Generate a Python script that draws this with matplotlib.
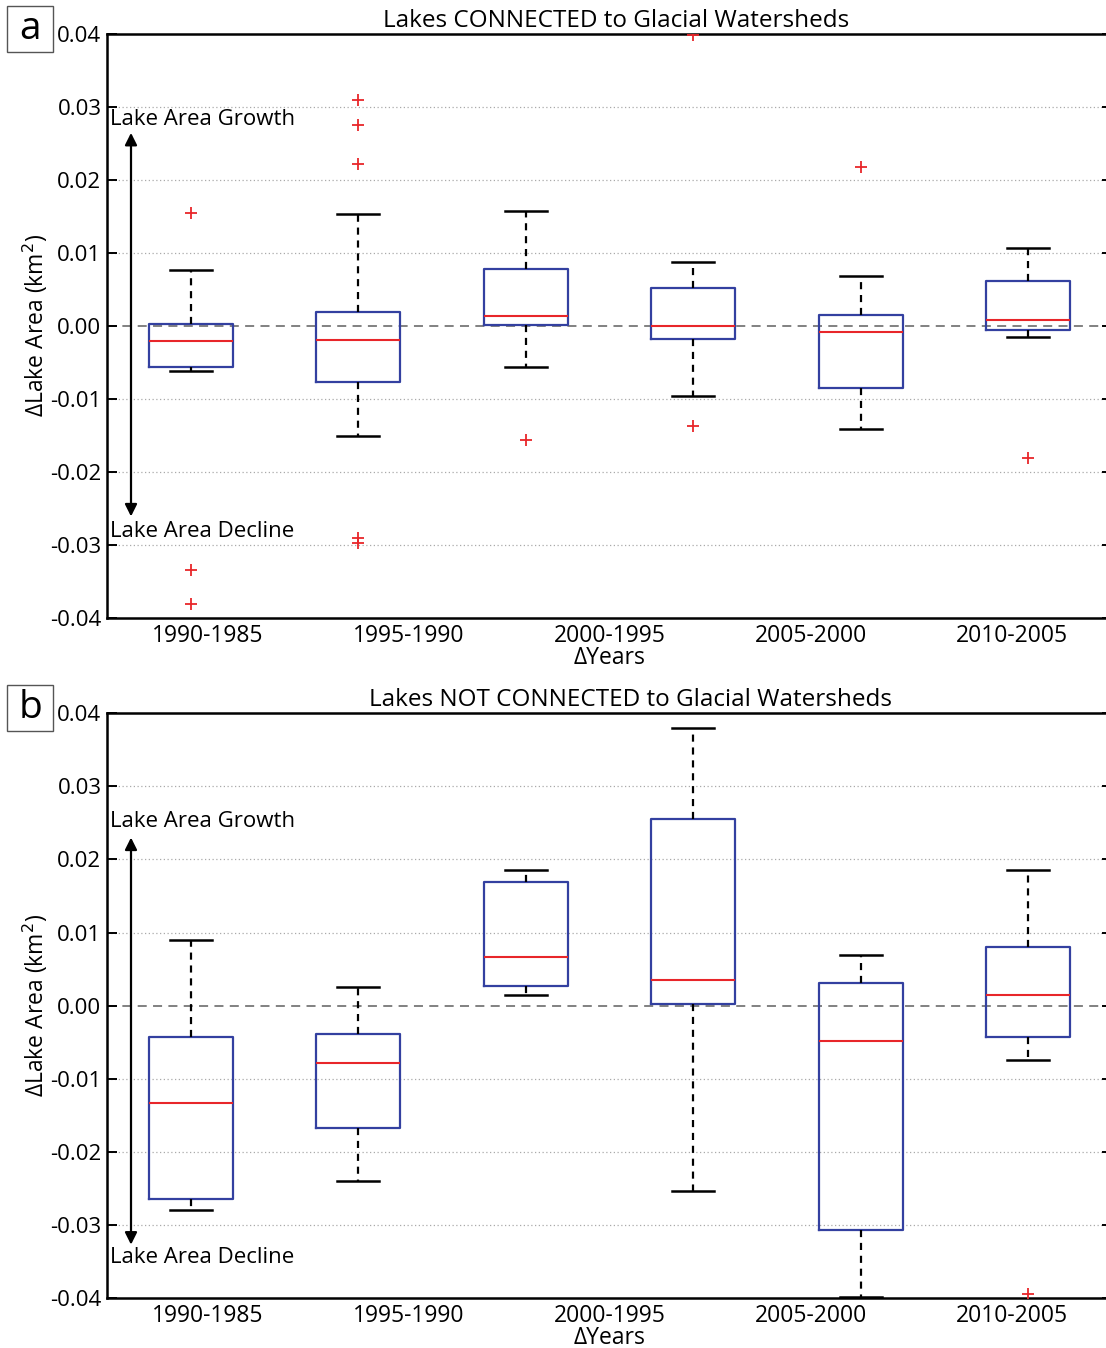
import matplotlib
matplotlib.use("Agg")
import matplotlib.pyplot as plt
from matplotlib.patches import Rectangle

plt.rcParams['font.family'] = ['Open Sans', 'DejaVu Sans']

# ---------------- data ----------------
x_labels = ["1990-1985", "1995-1990", "2000-1995", "2005-2000", "2010-2005"]
y_ticks = [-0.04, -0.03, -0.02, -0.01, 0.0, 0.01, 0.02, 0.03, 0.04]
y_ticklabels = ["-0.04", "-0.03", "-0.02", "-0.01", "0.00", "0.01", "0.02", "0.03", "0.04"]

# Panel a: lakes connected to glacial watersheds (six boxes)
a_whislo = [-0.0062, -0.0151, -0.0056, -0.0096, -0.0142, -0.0015]
a_q1     = [-0.0056, -0.0077,  0.0001, -0.0018, -0.0085, -0.0006]
a_med    = [-0.0021, -0.0019,  0.0013,  0.0000, -0.0008,  0.0008]
a_q3     = [ 0.0002,  0.0019,  0.0077,  0.0051,  0.0015,  0.0061]
a_whishi = [ 0.0076,  0.0153,  0.0157,  0.0087,  0.0068,  0.0106]
a_fliers = [[0.0154, -0.0334, -0.0381],
            [0.0309, 0.0275, 0.0221, -0.0291, -0.0297],
            [-0.0157],
            [0.0398, -0.0137],
            [0.0217],
            [-0.0181]]

# Panel b: lakes not connected to glacial watersheds
b_whislo = [-0.0279, -0.0240,  0.0014, -0.0254, -0.0398, -0.0074]
b_q1     = [-0.0265, -0.0168,  0.0027,  0.0002, -0.0307, -0.0043]
b_med    = [-0.0133, -0.0079,  0.0067,  0.0035, -0.0048,  0.0014]
b_q3     = [-0.0043, -0.0039,  0.0169,  0.0255,  0.0031,  0.0080]
b_whishi = [ 0.0090,  0.0026,  0.0186,  0.0380,  0.0069,  0.0185]
b_fliers = [[], [], [], [], [], [-0.0394]]

titles = ["Lakes CONNECTED to Glacial Watersheds",
          "Lakes NOT CONNECTED to Glacial Watersheds"]
panel_letters = ["a", "b"]

# ---------------- figure ----------------
W, H = 1106, 1348
fig = plt.figure(figsize=(W / 100, H / 100), dpi=100)

BOX_C = '#3340a0'
MED_C = '#e8262a'


def make_stats(lo, q1, med, q3, hi, fl):
    return [dict(whislo=lo[i], q1=q1[i], med=med[i], q3=q3[i],
                 whishi=hi[i], fliers=fl[i]) for i in range(len(med))]


panels = [
    dict(top=33.5, bot=618, stats=make_stats(a_whislo, a_q1, a_med, a_q3, a_whishi, a_fliers),
         arrow=(0.0264, -0.0261), grow_y=0.0282, decl_y=-0.0281, letter_box=(7, 6),
         title_x=0.5065),
    dict(top=713.3, bot=1298, stats=make_stats(b_whislo, b_q1, b_med, b_q3, b_whishi, b_fliers),
         arrow=(0.0230, -0.0327), grow_y=0.0252, decl_y=-0.0344, letter_box=(7, 685),
         title_x=0.521),
]

FS = 16.5
left_px, right_px = 107, 1112

for k, p in enumerate(panels):
    ax = fig.add_axes([left_px / W, 1 - p['bot'] / H,
                       (right_px - left_px) / W, (p['bot'] - p['top']) / H])
    n = len(p['stats'])
    positions = list(range(1, n + 1))
    ax.axhline(0, color='#777777', lw=1.3, ls=(0, (5, 3.5)), zorder=1)
    ax.bxp(p['stats'], positions=positions, widths=0.5, capwidths=0.25,
           showfliers=True, patch_artist=False,
           boxprops=dict(color=BOX_C, lw=1.6),
           medianprops=dict(color=MED_C, lw=1.5),
           whiskerprops=dict(color='black', lw=1.6, ls=(0, (3.2, 2.6))),
           capprops=dict(color='black', lw=1.8),
           flierprops=dict(marker='+', markeredgecolor=MED_C, markersize=8,
                           markeredgewidth=1.3, linestyle='none'),
           manage_ticks=False, zorder=3)
    ax.set_xlim(0.5, n + 0.5)
    ax.set_ylim(-0.04, 0.04)
    ax.set_yticks(y_ticks)
    ax.set_yticklabels(y_ticklabels, fontsize=FS - 0.5)
    span = n
    xt = [0.5 + (i + 0.5) * span / len(x_labels) for i in range(len(x_labels))]
    ax.set_xticks(xt)
    ax.set_xticklabels(x_labels, fontsize=FS)
    ax.tick_params(axis='x', length=0, pad=4)
    ax.tick_params(axis='y', direction='in', left=True, right=True, length=7,
                   width=1.4, pad=4)
    for y in y_ticks:
        if y != 0.0 and abs(y) < 0.04:
            ax.axhline(y, color='#aaaaaa', lw=0.9, ls=(0, (1, 2)), zorder=0)
    for s in ax.spines.values():
        s.set_linewidth(1.8)
    ax.set_title(titles[k], fontsize=17.5, x=p['title_x'], pad=5)
    ax.set_ylabel("ΔLake Area (km$^2$)", fontsize=FS, labelpad=0)
    ax.set_xlabel("ΔYears", fontsize=FS, labelpad=-1)

    # growth / decline arrow
    ax_x = 0.5 + (131 - left_px) / ((right_px - left_px) / n)
    ax.annotate('', xy=(ax_x, p['arrow'][0]), xytext=(ax_x, p['arrow'][1]),
                arrowprops=dict(arrowstyle='<|-|>', color='black', lw=1.6,
                                mutation_scale=18, shrinkA=0, shrinkB=0))
    tx = 0.5 + (110 - left_px) / ((right_px - left_px) / n)
    ax.text(tx, p['grow_y'], "Lake Area Growth", fontsize=16, ha='left', va='center')
    ax.text(tx, p['decl_y'], "Lake Area Decline", fontsize=16, ha='left', va='center')

    # panel letter in box
    bx, by = p['letter_box']
    fig.patches.append(Rectangle((bx / W, 1 - (by + 46) / H), 46 / W, 46 / H,
                                 transform=fig.transFigure, fill=False,
                                 edgecolor='#555555', lw=1.0))
    fig.text((bx + 23) / W, 1 - (by + 23) / H, panel_letters[k], fontsize=28,
             ha='center', va='center')

fig.savefig("out.png", dpi=100)
